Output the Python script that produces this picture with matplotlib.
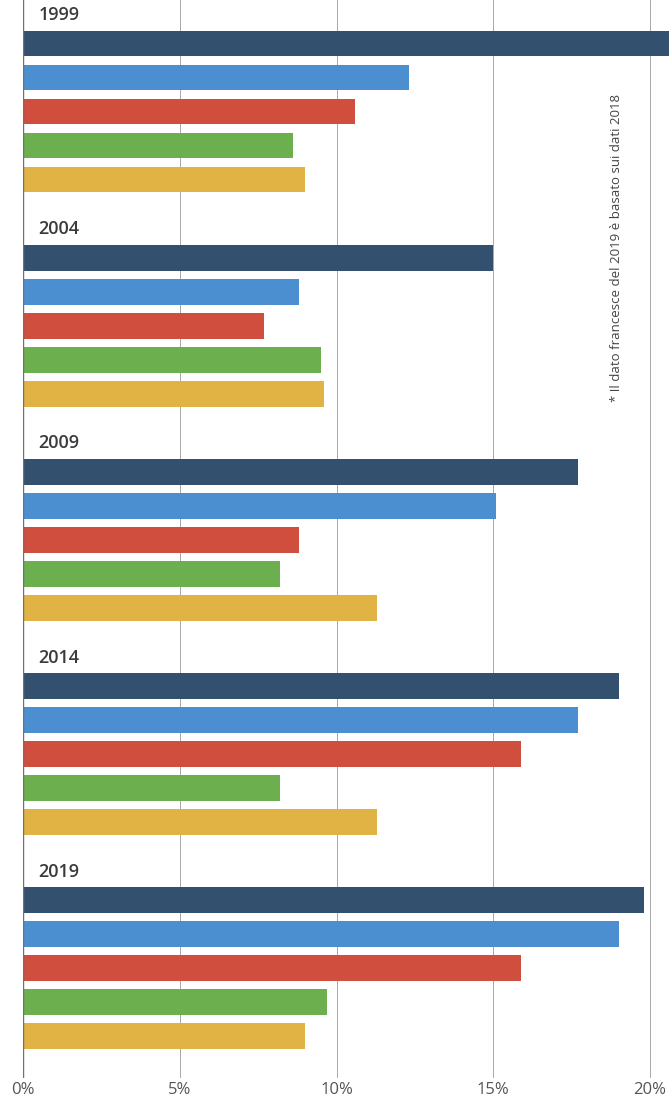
import matplotlib
matplotlib.use("Agg")
import matplotlib.pyplot as plt

years = ["1999", "2004", "2009", "2014", "2019"]
# one list per series, one value per year (%)
navy_vals = [20.6, 15.0, 17.7, 19.0, 19.8]
blue_vals = [12.3, 8.8, 15.1, 17.7, 19.0]
red_vals = [10.6, 7.7, 8.8, 15.9, 15.9]
green_vals = [8.6, 9.5, 8.2, 8.2, 9.7]
yellow_vals = [9.0, 9.6, 11.3, 11.3, 9.0]
xticks = [0, 5, 10, 15, 20]
note = "* Il dato francesce del 2019 è basato sui dati 2018"

series = [navy_vals, blue_vals, red_vals, green_vals, yellow_vals]
colors = ["#33506f", "#4b8fd0", "#cf4e3d", "#6caf4e", "#e1b345"]

GROUP_STEP = 6.3
BAR_H = 0.76

fig = plt.figure(figsize=(6.72, 11.02), dpi=100)
ax = fig.add_axes([23 / 672, 24 / 1102, 1 - 23 / 672, 1078 / 1102])

for g, year in enumerate(years):
    base = g * GROUP_STEP
    for j, vals in enumerate(series):
        ax.barh(base + j, vals[g], height=BAR_H, left=0, color=colors[j], zorder=3)
    ax.text(0.5, base - 0.84, year, ha="left", va="center", fontsize=13,
            fontweight="semibold", color="#3a3a3a", family="Open Sans")

ax.set_xlim(0, (672 - 23) / 31.35)
ax.set_ylim((1078 - 43.5) / 34, -43.5 / 34)

ax.set_xticks(xticks)
ax.set_xticklabels([f"{t}%" for t in xticks], fontsize=12, color="#555555", family="Open Sans")
ax.tick_params(axis="x", length=0, pad=3)
ax.set_yticks([])
ax.grid(axis="x", color="#a8a8a8", linewidth=0.7, zorder=0)
ax.axvline(0, color="#707070", linewidth=1.0, zorder=4)
for s in ax.spines.values():
    s.set_visible(False)

fig.text(617 / 672, 1 - 248 / 1102, note, rotation=90, ha="center", va="center",
         fontsize=9.5, color="#444444", family=["Liberation Sans Narrow", "Open Sans", "DejaVu Sans"])

fig.savefig("out.png", dpi=100)
